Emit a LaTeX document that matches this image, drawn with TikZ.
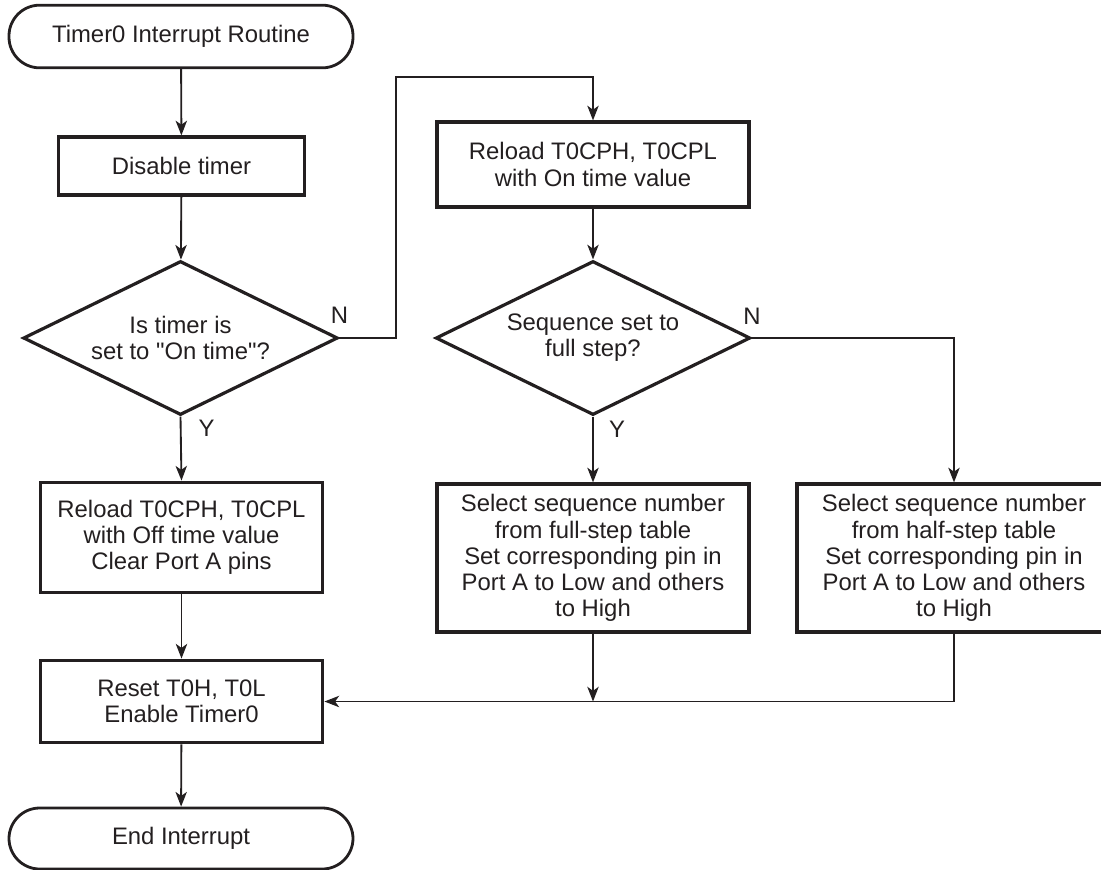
\documentclass[tikz,border=0pt]{standalone}
\usepackage{fontspec}
\setmainfont{Liberation Sans}[Ligatures=TeXOff]
\usetikzlibrary{arrows.meta,shapes.geometric}
\definecolor{ink}{HTML}{231F20}
\tikzset{
	terminal/.style = {draw=ink, line width=2.1pt, rounded corners=23pt, minimum width=258pt, inner sep=0pt},
	procbox/.style = {draw=ink, line width=2.4pt, align=center, inner sep=0pt},
	decision/.style = {draw=ink, diamond, aspect=2, line width=2.4pt, align=center, inner sep=0pt, minimum width=236pt, minimum height=115.5pt},
	flowline/.style = {draw=ink, line width=1.4pt},
	flowarrow/.style = {flowline, -{Stealth[length=11pt, width=8.5pt, inset=3pt]}},
	tag/.style = {inner sep=0pt}
}

\begin{document}
\begin{tikzpicture}[x=0.75pt, y=-0.75pt, every node/.style={font=\fontsize{17.9}{19.6}\selectfont, text=ink}]
	\useasboundingbox (0,0) rectangle (1101,869);
	\node[terminal, minimum height=47pt] (start) at (181,36.5) {Timer0 Interrupt Routine};
	\node[procbox, minimum width=185pt, minimum height=43.5pt] (disable) at (181.5,166) {Disable timer};
	\node[decision] (dec1) at (180.5,338) {Is timer is\\set to "On time"?};
	\node[procbox, minimum width=234pt, minimum height=63.75pt] (reloadon) at (593,164.5) {Reload T0CPH, T0CPL\\with On time value};
	\node[decision] (dec2) at (593,338) {Sequence set to\\full step?};
	\node[procbox, minimum width=212pt, minimum height=83pt] (reloadoff) at (181.5,537.5) {Reload T0CPH, T0CPL\\with Off time value\\Clear Port A pins};
	\node[procbox, minimum width=234pt, minimum height=111pt] (fullstep) at (593,558) {Select sequence number\\from full-step table\\Set corresponding pin in\\Port A to Low and others\\to High};
	\node[procbox, minimum width=235.5pt, minimum height=111pt] (halfstep) at (954,558) {Select sequence number\\from half-step table\\Set corresponding pin in\\Port A to Low and others\\to High};
	\node[procbox, minimum width=212pt, minimum height=62pt] (reset) at (181.5,701.5) {Reset T0H, T0L\\Enable Timer0};
	\node[terminal, minimum height=45.75pt] (finish) at (181,838.5) {End Interrupt};

	\node[tag] (n1) at ([yshift=17pt]dec1.east) {N};
	\node[tag] (y1) at ([xshift=19.5pt, yshift=-9pt]dec1.south) {Y};
	\node[tag] (n2) at ([yshift=16pt]dec2.east) {N};
	\node[tag] (y2) at ([xshift=18pt, yshift=-9.75pt]dec2.south) {Y};

	\coordinate (nbend) at (396,77);
	\coordinate (join) at (fullstep.south |- reset.east);

	\draw[flowarrow] (start) -- (disable);
	\draw[flowarrow] (disable) -- (dec1);
	\draw[flowarrow] (dec1.east) -| (nbend) -| (reloadon.north);
	\draw[flowarrow] (reloadon) -- (dec2);
	\draw[flowarrow] (dec2.east) -| (halfstep.north);
	\draw[flowarrow] (dec2.south) -- (fullstep.north);
	\draw[flowarrow] (dec1.south) -- (reloadoff.north);
	\draw[flowarrow] (reloadoff) -- (reset);
	\draw[flowarrow] (reset) -- (finish);
	\draw[flowarrow] (fullstep.south) -- (join);
	\draw[flowarrow] (halfstep.south) |- (reset.east);
\end{tikzpicture}
\end{document}
